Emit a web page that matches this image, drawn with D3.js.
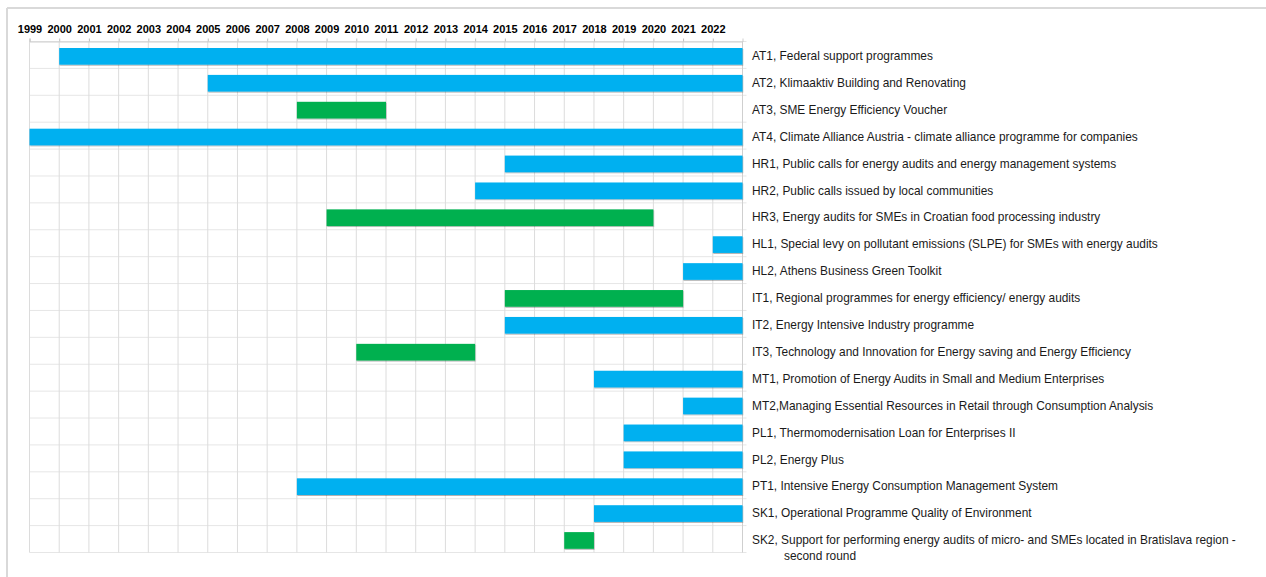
<!DOCTYPE html>
<html>
<head>
<meta charset="utf-8">
<script src="https://cdn.jsdelivr.net/npm/d3@7/dist/d3.min.js"></script>
<style>
  html, body { margin: 0; padding: 0; background: #fff; }
  svg { display: block; font-family: "Liberation Sans", Arial, sans-serif; }
</style>
</head>
<body>
<svg id="chart" width="1266" height="577"></svg>
<script>
const years = d3.range(1999, 2023); // tick labels 1999..2022
const ids = ["AT1","AT2","AT3","AT4","HR1","HR2","HR3","HL1","HL2","IT1","IT2","IT3","MT1","MT2","PL1","PL2","PT1","SK1","SK2"];
const labels = [
  "AT1, Federal support programmes",
  "AT2, Klimaaktiv Building and Renovating",
  "AT3, SME Energy Efficiency Voucher",
  "AT4, Climate Alliance Austria - climate alliance programme for companies",
  "HR1, Public calls for energy audits and energy management systems",
  "HR2, Public calls issued by local communities",
  "HR3, Energy audits for SMEs in Croatian food processing industry",
  "HL1, Special levy on pollutant emissions (SLPE) for SMEs with energy audits",
  "HL2, Athens Business Green Toolkit",
  "IT1, Regional programmes for energy efficiency/ energy audits",
  "IT2, Energy Intensive Industry programme",
  "IT3, Technology and Innovation for Energy saving and Energy Efficiency",
  "MT1, Promotion of Energy Audits in Small and Medium Enterprises",
  "MT2,Managing Essential Resources in Retail through Consumption Analysis",
  "PL1, Thermomodernisation Loan for Enterprises II",
  "PL2, Energy Plus",
  "PT1, Intensive Energy Consumption Management System",
  "SK1, Operational Programme Quality of Environment",
  ["SK2, Support for performing energy audits of micro- and SMEs located in Bratislava region -", "second round"]
];
const starts = [2000, 2005, 2008, 1999, 2015, 2014, 2009, 2022, 2021, 2015, 2015, 2010, 2018, 2021, 2019, 2019, 2008, 2018, 2017];
const ends   = [2023, 2023, 2011, 2023, 2023, 2023, 2020, 2023, 2023, 2021, 2023, 2014, 2023, 2023, 2023, 2023, 2023, 2023, 2018];
const status = ["ongoing","ongoing","ended","ongoing","ongoing","ongoing","ended","ongoing","ongoing","ended","ongoing","ended","ongoing","ongoing","ongoing","ongoing","ongoing","ongoing","ended"];

const colors = { ongoing: "#00B0F0", ended: "#00B050" };

const svg = d3.select("#chart");

// outer frame
svg.append("line").attr("x1", 7).attr("x2", 1266).attr("y1", 8).attr("y2", 8)
  .attr("stroke", "#d9d9d9").attr("stroke-width", 2);
svg.append("line").attr("x1", 7).attr("x2", 7).attr("y1", 8).attr("y2", 577)
  .attr("stroke", "#d9d9d9").attr("stroke-width", 2);

const x = d3.scaleLinear().domain([1999, 2023]).range([29.5, 742.5]);
const y = d3.scaleBand().domain(ids).range([41.5, 552.5]).paddingInner(0).paddingOuter(0);

const defs = svg.append("defs");
const f = defs.append("filter").attr("id", "shadow").attr("x", "-5%").attr("y", "-30%").attr("width", "110%").attr("height", "170%");
f.append("feDropShadow").attr("dx", 0.5).attr("dy", 1).attr("stdDeviation", 0.7)
  .attr("flood-color", "#000").attr("flood-opacity", 0.3);

// horizontal grid (row boundaries)
const bounds = ids.map(d => y(d)).concat([y.range()[1]]);
svg.append("g").selectAll("line").data(bounds).join("line")
  .attr("x1", x(1999)).attr("x2", x(2023) + 4)
  .attr("y1", d => d).attr("y2", d => d)
  .attr("stroke", "#e6e6e6").attr("stroke-width", 1);

// vertical grid
svg.append("g").selectAll("line").data(d3.range(1999, 2024)).join("line")
  .attr("x1", d => x(d)).attr("x2", d => x(d))
  .attr("y1", y.range()[0]).attr("y2", y.range()[1])
  .attr("stroke", d => d === 2023 ? "#cfcfcf" : "#dcdcdc").attr("stroke-width", 1);

// top axis
const axis = d3.axisTop(x).tickValues(years).tickSize(3).tickPadding(6).tickFormat(d3.format("d"));
const gAx = svg.append("g").attr("transform", `translate(0,${y.range()[0]})`).call(axis);
gAx.select(".domain").attr("stroke", "#cfcfcf");
gAx.selectAll(".tick line").attr("stroke", "#bfbfbf");
gAx.selectAll(".tick text").attr("font-size", "11px").attr("font-weight", "bold")
  .attr("fill", "#000").attr("font-family", "'Liberation Sans', Arial, sans-serif");

// bars
const rows = ids.map((id, i) => ({ id, start: starts[i], end: ends[i], status: status[i], label: labels[i] }));
const bh = y.bandwidth() * 0.62;
svg.append("g").selectAll("rect").data(rows).join("rect")
  .attr("x", d => x(d.start))
  .attr("width", d => x(d.end) - x(d.start))
  .attr("y", d => y(d.id) + 6.5)
  .attr("height", bh)
  .attr("fill", d => colors[d.status])
  .attr("filter", "url(#shadow)");

// labels
const gl = svg.append("g").attr("font-size", "11.9px").attr("fill", "#1a1a1a");
rows.forEach(d => {
  const cy = y(d.id) + y.bandwidth() / 2 + 1;
  if (Array.isArray(d.label)) {
    const t = gl.append("text").attr("x", 752).attr("y", cy).attr("dy", "0.35em");
    t.append("tspan").attr("x", 752).text(d.label[0]);
    t.append("tspan").attr("x", 784).attr("dy", "15.5").text(d.label[1]);
  } else {
    gl.append("text").attr("x", 752).attr("y", cy).attr("dy", "0.35em").text(d.label);
  }
});
</script>
</body>
</html>
